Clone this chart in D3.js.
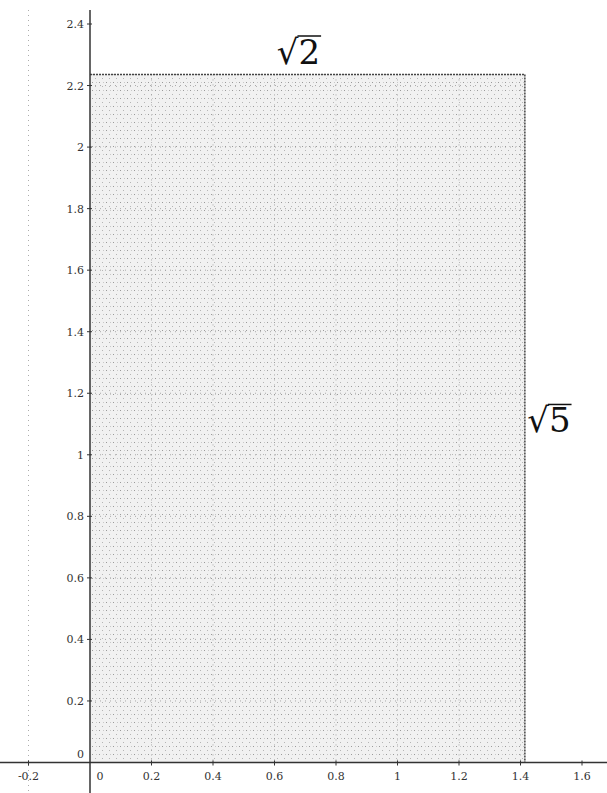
<!DOCTYPE html>
<html>
<head>
<meta charset="utf-8">
<script src="https://cdn.jsdelivr.net/npm/d3@7"></script>
<style>
  body { margin: 0; background: #fff; }
  svg { display: block; }
  .tick-label { font-family: "DejaVu Serif", "Liberation Serif", serif; font-size: 11px; fill: #333; }
  .side-label { font-family: "DejaVu Serif", "Liberation Serif", serif; font-size: 34px; fill: #111; }
</style>
</head>
<body>
<div id="chart"></div>
<script>
// tick values
const xTicks = [-0.2, 0, 0.2, 0.4, 0.6, 0.8, 1, 1.2, 1.4, 1.6];
const yTicks = [0, 0.2, 0.4, 0.6, 0.8, 1, 1.2, 1.4, 1.6, 1.8, 2, 2.2, 2.4];

// rectangle: width sqrt(2), height sqrt(5)
const rectSides = [Math.SQRT2, Math.sqrt(5)];
const sideLabels = ['2', '5'];

const width = 607, height = 793;

const svg = d3.select('#chart')
  .append('svg')
  .attr('width', width)
  .attr('height', height);

const x = d3.scaleLinear().domain([0, 1.6]).range([90, 582]);
const y = d3.scaleLinear().domain([0, 2.4]).range([762.5, 24]);

const fmt = d => d3.format('~g')(d).replace('\u2212', '-');

// speckled fill like the scanned shading
const defs = svg.append('defs');
const pat = defs.append('pattern')
  .attr('id', 'speckle')
  .attr('patternUnits', 'userSpaceOnUse')
  .attr('width', 7)
  .attr('height', 8);
pat.append('rect').attr('width', 7).attr('height', 8).attr('fill', '#f1f1f1');
pat.append('rect').attr('x', 1).attr('y', 2).attr('width', 1).attr('height', 1).attr('fill', '#9a9a9a');
pat.append('rect').attr('x', 4).attr('y', 6).attr('width', 1).attr('height', 1).attr('fill', '#b5b5b5');
pat.append('rect').attr('x', 5).attr('y', 2).attr('width', 1).attr('height', 1).attr('fill', '#c8c8c8');

// rectangle
svg.append('rect')
  .attr('x', x(0))
  .attr('y', y(rectSides[1]))
  .attr('width', x(rectSides[0]) - x(0))
  .attr('height', y(0) - y(rectSides[1]))
  .attr('fill', 'url(#speckle)');

// faint dotted grid
const grid = svg.append('g').attr('class', 'grid');
grid.selectAll('line.v')
  .data(xTicks.filter(d => d !== 0))
  .join('line')
  .attr('class', 'v')
  .attr('x1', d => x(d)).attr('x2', d => x(d))
  .attr('y1', d => d < 0 ? 10 : y(rectSides[1]))
  .attr('y2', d => d < 0 ? height : y(0))
  .attr('stroke', d => d > rectSides[0] ? 'none' : '#999')
  .attr('stroke-width', 1)
  .attr('stroke-dasharray', '1,4')
  .attr('opacity', 0.8);
grid.selectAll('line.h')
  .data(yTicks.filter(d => d !== 0 && d < rectSides[1]))
  .join('line')
  .attr('class', 'h')
  .attr('x1', x(0)).attr('x2', x(rectSides[0]))
  .attr('y1', d => y(d)).attr('y2', d => y(d))
  .attr('stroke', '#999')
  .attr('stroke-width', 1)
  .attr('stroke-dasharray', '1,4')
  .attr('opacity', 0.8);

// rectangle top and right edges (dotted dark)
svg.append('line')
  .attr('x1', x(0)).attr('x2', x(rectSides[0]))
  .attr('y1', y(rectSides[1])).attr('y2', y(rectSides[1]))
  .attr('stroke', '#444').attr('stroke-width', 1.5)
  .attr('stroke-dasharray', '2,1');
svg.append('line')
  .attr('x1', x(rectSides[0])).attr('x2', x(rectSides[0]))
  .attr('y1', y(rectSides[1])).attr('y2', y(0))
  .attr('stroke', '#444').attr('stroke-width', 1.5)
  .attr('stroke-dasharray', '2,1');

// axes
svg.append('line')
  .attr('x1', 0).attr('x2', width)
  .attr('y1', y(0)).attr('y2', y(0))
  .attr('stroke', '#333').attr('stroke-width', 1.5);
svg.append('line')
  .attr('x1', x(0)).attr('x2', x(0))
  .attr('y1', 10).attr('y2', height)
  .attr('stroke', '#333').attr('stroke-width', 1.5);

// x ticks
svg.selectAll('line.xtick')
  .data(xTicks.filter(d => d !== 0))
  .join('line')
  .attr('class', 'xtick')
  .attr('x1', d => x(d)).attr('x2', d => x(d))
  .attr('y1', y(0) - 2).attr('y2', y(0) + 3)
  .attr('stroke', '#333');
svg.selectAll('text.xlab')
  .data(xTicks)
  .join('text')
  .attr('class', 'tick-label xlab')
  .attr('x', d => d === 0 ? x(d) + 10 : x(d))
  .attr('y', y(0) + 17)
  .attr('text-anchor', 'middle')
  .text(fmt);

// y ticks
svg.selectAll('line.ytick')
  .data(yTicks.filter(d => d !== 0))
  .join('line')
  .attr('class', 'ytick')
  .attr('x1', x(0) - 3).attr('x2', x(0) + 2)
  .attr('y1', d => y(d)).attr('y2', d => y(d))
  .attr('stroke', '#333');
svg.selectAll('text.ylab')
  .data(yTicks)
  .join('text')
  .attr('class', 'tick-label ylab')
  .attr('x', x(0) - 6)
  .attr('y', d => d === 0 ? y(d) - 5 : y(d) + 4)
  .attr('text-anchor', 'end')
  .text(fmt);

// side labels with radical signs
function radical(cx, cy, radicand) {
  const g = svg.append('g');
  const t = g.append('text')
    .attr('class', 'side-label')
    .attr('x', cx).attr('y', cy)
    .attr('text-anchor', 'middle');
  t.append('tspan').text('\u221A');
  t.append('tspan').text(radicand);
  const b = t.node().getBBox();
  const last = t.node().getExtentOfChar(1);
  g.append('line')
    .attr('x1', last.x - 1).attr('x2', b.x + b.width + 1)
    .attr('y1', b.y + 4).attr('y2', b.y + 4)
    .attr('stroke', '#111').attr('stroke-width', 1.5);
}
radical((x(0) + x(rectSides[0])) / 2 - 9, 64, sideLabels[0]);
radical(x(rectSides[0]) + 24, y(rectSides[1] / 2) + 14, sideLabels[1]);
</script>
</body>
</html>
